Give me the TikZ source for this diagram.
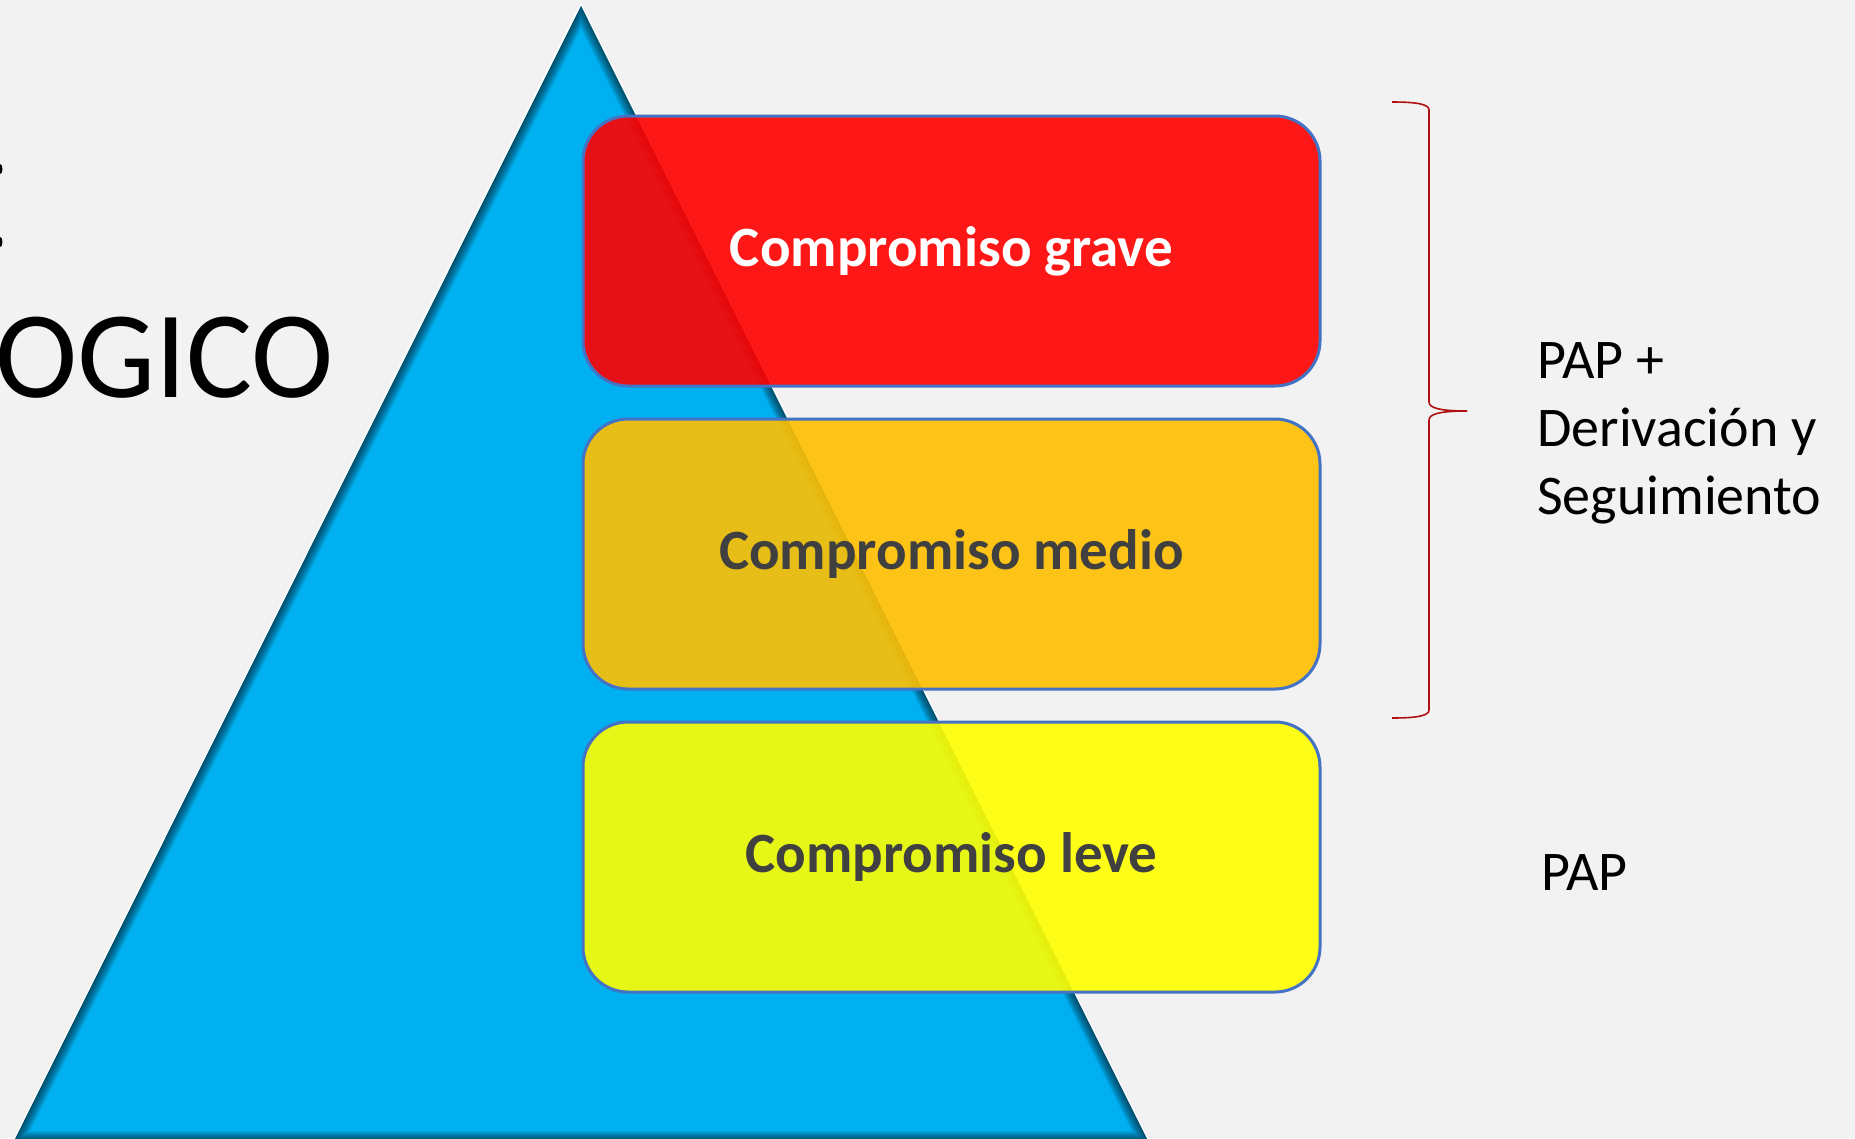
\documentclass[tikz,border=0pt]{standalone}
\usepackage{fontspec}
\setmainfont{Carlito}
\begin{document}
\begin{tikzpicture}[x=1pt,y=-1pt,
  level/.style={rectangle, rounded corners=45pt, minimum width=737pt, minimum height=270pt,
    draw=boxline, line width=3pt, fill opacity=0.9, text opacity=1, draw opacity=1,
    font=\fontsize{57}{68}\selectfont\bfseries, inner sep=0pt},
  bracestroke/.style={draw=braceRed, line width=1.6pt},
  sidetext/.style={font=\fontsize{56}{68}\selectfont, text=black, align=left, inner sep=0pt}]
\definecolor{bg}{HTML}{F2F2F2}
\definecolor{pyr}{HTML}{00B0F0}
\definecolor{boxline}{HTML}{4472C4}
\definecolor{braceRed}{HTML}{B01010}
\definecolor{darktext}{HTML}{404040}
\definecolor{lvGrave}{HTML}{FF0000}
\definecolor{lvMedio}{HTML}{FFC000}
\definecolor{lvLeve}{HTML}{FFFF00}

\useasboundingbox (0,0) rectangle (1855,1138);
\clip (0,0) rectangle (1855,1138);
\fill[bg] (0,0) rectangle (1855,1138);

% title fragments at the left margin
\node[anchor=base east, inner sep=0pt, font=\fontsize{124}{124}\selectfont] (title) at (334,397) {OGICO};
\fill[black] (0,169) ellipse (2.5 and 5);
\fill[black] (0,242) ellipse (2.5 and 5);

% pyramid
\coordinate (apex) at (581,6);
\coordinate (bl) at (14,1141);
\coordinate (br) at (1148,1141);
\draw[white, line width=3pt, line join=miter] (apex) -- (bl) -- (br) -- cycle;
\fill[pyr] (apex) -- (bl) -- (br) -- cycle;
\begin{scope}
  \clip (apex) -- (bl) -- (br) -- cycle;
  \foreach \w in {2,4,...,20}
    \draw[black, opacity=0.07, line width=\w pt] (apex) -- (bl) -- (br) -- cycle;
\end{scope}

% levels
\node[level, fill=lvGrave, text=white] (grave) at (951.5,251) {Compromiso grave};
\node[level, fill=lvMedio, text=darktext] (medio) at (951.5,554) {Compromiso medio};
\node[level, fill=lvLeve, text=darktext] (leve) at (951.5,857) {Compromiso leve};

% brace spanning the two upper levels
\coordinate (btop) at (1392,102);
\coordinate (btip) at (1467,411);
\coordinate (bbot) at (1392,718);
\draw[bracestroke] (btop) .. controls (1416,102) and (1429,104) .. (1429,110)
  -- (1429,402) .. controls (1429,408) and (1440,411) .. (btip);
\draw[bracestroke] (btip) .. controls (1440,411) and (1429,414) .. (1429,420)
  -- (1429,710) .. controls (1429,716) and (1416,718) .. (bbot);

% actions (base anchor sits on the last line)
\node[sidetext, anchor=base west] (accion1) at (1537,514) {PAP +\\Derivación y\\Seguimiento};
\node[sidetext, anchor=base west] (accion2) at (1541,890) {PAP};
\end{tikzpicture}
\end{document}
